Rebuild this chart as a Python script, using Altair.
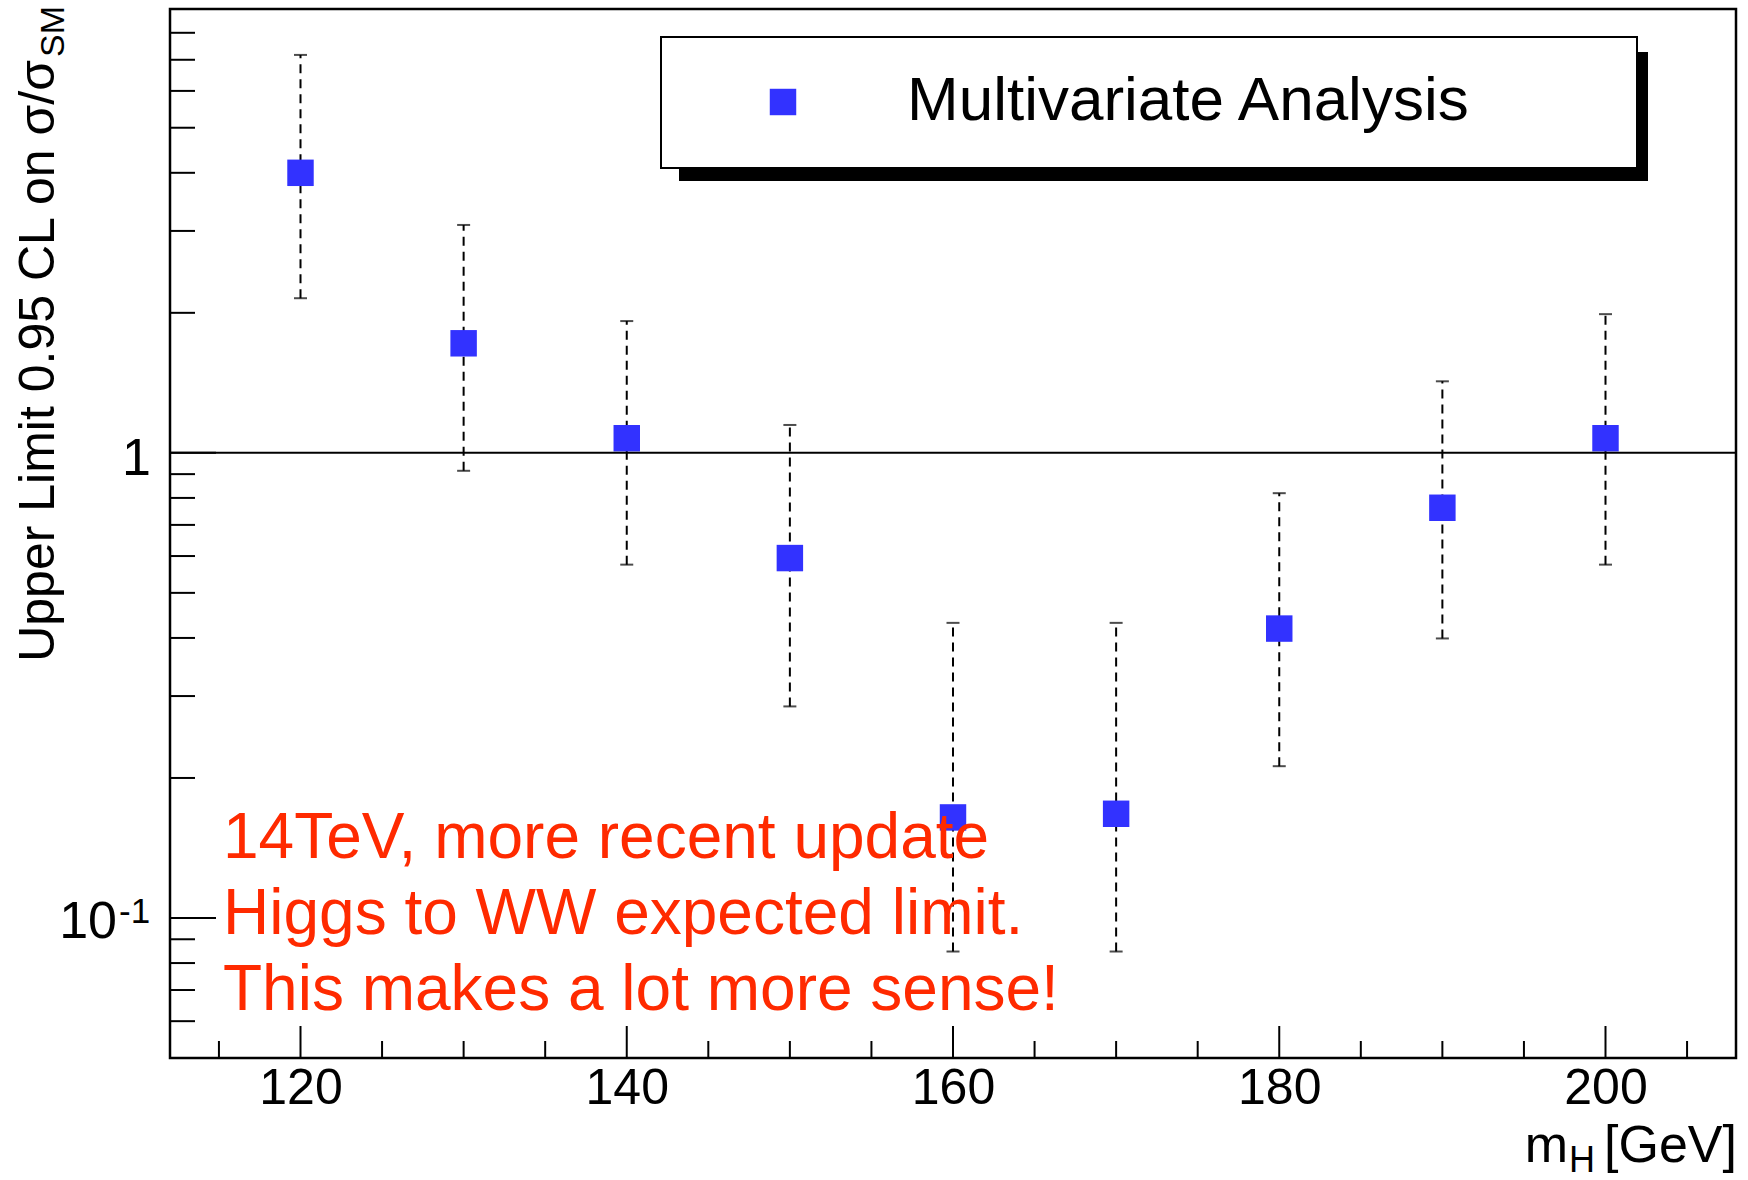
import altair as alt
import pandas as pd

# ---- data ----
mass = [120, 130, 140, 150, 160, 170, 180, 190, 200]
limit = [4.0, 1.72, 1.075, 0.594, 0.1645, 0.1675, 0.419, 0.762, 1.075]
upper = [7.17, 3.09, 1.92, 1.148, 0.431, 0.431, 0.819, 1.425, 1.987]
lower = [2.15, 0.915, 0.575, 0.285, 0.0847, 0.0847, 0.212, 0.399, 0.575]

x_major = [120, 140, 160, 180, 200]
x_minor = [115, 125, 130, 135, 145, 150, 155, 165, 170, 175, 185, 190, 195, 205]
y_major = [0.1, 1]
y_minor = [0.06, 0.07, 0.08, 0.09, 0.2, 0.3, 0.4, 0.5, 0.6, 0.7, 0.8, 0.9,
           2, 3, 4, 5, 6, 7, 8, 9]
ref_line = [1]

legend_label = "Multivariate Analysis"
note_lines = "14TeV, more recent update\nHiggs to WW expected limit.\nThis makes a lot more sense!"

FONT = "Liberation Sans"
BLUE = "#3232ff"
RED = "#ff2a00"
W, H = 1566, 1049

df = pd.DataFrame({"mass": mass, "limit": limit, "upper": upper, "lower": lower})

xs = alt.Scale(domain=[112, 208], nice=False, zero=False)
ys = alt.Scale(type="log", domain=[0.05, 9], nice=False)
x_axis = alt.Axis(values=x_major, ticks=False, tickSize=0, domain=False, grid=False,
                  title=None, labelFont=FONT, labelFontSize=50, labelPadding=5,
                  labelColor="black")


def X(field):
    return alt.X(field, type="quantitative", scale=xs, axis=x_axis)


def Y(field):
    return alt.Y(field, type="quantitative", scale=ys, axis=None)


base = alt.Chart(df)

bars = base.mark_rule(color="black", strokeWidth=2, strokeDash=[9, 6]).encode(
    x=X("mass"), y=Y("lower"), y2="upper")
cap_hi = base.mark_tick(orient="horizontal", color="black", size=13, thickness=2).encode(
    x=X("mass"), y=Y("upper"))
cap_lo = base.mark_tick(orient="horizontal", color="black", size=13, thickness=2).encode(
    x=X("mass"), y=Y("lower"))
points = base.mark_square(size=700, color=BLUE, opacity=1).encode(
    x=X("mass"), y=Y("limit"))

one = alt.Chart(pd.DataFrame({"v": ref_line})).mark_rule(color="black", strokeWidth=2).encode(
    y=Y("v"), x=alt.value(0), x2=alt.value(W))

xmaj = alt.Chart(pd.DataFrame({"v": x_major})).mark_rule(color="black", strokeWidth=2).encode(
    x=X("v"), y=alt.value(H), y2=alt.value(H - 32))
xmin = alt.Chart(pd.DataFrame({"v": x_minor})).mark_rule(color="black", strokeWidth=2).encode(
    x=X("v"), y=alt.value(H), y2=alt.value(H - 17))
ymaj = alt.Chart(pd.DataFrame({"v": y_major})).mark_rule(color="black", strokeWidth=2).encode(
    y=Y("v"), x=alt.value(0), x2=alt.value(46))
ymin = alt.Chart(pd.DataFrame({"v": y_minor})).mark_rule(color="black", strokeWidth=2).encode(
    y=Y("v"), x=alt.value(0), x2=alt.value(25))

# y tick labels (ROOT style "1" and "10^-1")
ylab_one = alt.Chart(pd.DataFrame({"v": [1], "t": ["1"]})).mark_text(
    font=FONT, fontSize=52, align="right", baseline="alphabetic", dy=22, color="black").encode(
    y=Y("v"), x=alt.value(-19), text="t:N")
ylab_ten = alt.Chart(pd.DataFrame({"v": [0.1], "t": ["10"]})).mark_text(
    font=FONT, fontSize=52, align="right", baseline="alphabetic", dy=20, color="black").encode(
    y=Y("v"), x=alt.value(-53), text="t:N")
ylab_exp = alt.Chart(pd.DataFrame({"v": [0.1], "t": ["-1"]})).mark_text(
    font=FONT, fontSize=35, align="left", baseline="alphabetic", dy=5, color="black").encode(
    y=Y("v"), x=alt.value(-51), text="t:N")

# axis titles
one_row = pd.DataFrame({"k": [0]})
ytitle = alt.Chart(one_row).mark_text(
    text="Upper Limit 0.95 CL on σ/σ", font=FONT, fontSize=50, angle=270,
    align="right", baseline="alphabetic", color="black").encode(
    x=alt.value(-116), y=alt.value(51))
ytitle_sub = alt.Chart(one_row).mark_text(
    text="SM", font=FONT, fontSize=34, angle=270,
    align="right", baseline="alphabetic", color="black").encode(
    x=alt.value(-106), y=alt.value(-3))
xtitle_gev = alt.Chart(one_row).mark_text(
    text="[GeV]", font=FONT, fontSize=52, align="right", baseline="alphabetic",
    color="black").encode(x=alt.value(W + 1), y=alt.value(H + 104))
xtitle_h = alt.Chart(one_row).mark_text(
    text="H", font=FONT, fontSize=36, align="right", baseline="alphabetic",
    color="black").encode(x=alt.value(1425), y=alt.value(H + 114))
xtitle_m = alt.Chart(one_row).mark_text(
    text="m", font=FONT, fontSize=52, align="right", baseline="alphabetic",
    color="black").encode(x=alt.value(1398), y=alt.value(H + 104))

# legend box with shadow
shadow = alt.Chart(one_row).mark_rect(color="black").encode(
    x=alt.value(509), x2=alt.value(1478), y=alt.value(43), y2=alt.value(172))
box = alt.Chart(one_row).mark_rect(fill="white", stroke="black", strokeWidth=2).encode(
    x=alt.value(491), x2=alt.value(1467), y=alt.value(28), y2=alt.value(159))
leg_mark = alt.Chart(one_row).mark_square(size=700, color=BLUE, opacity=1).encode(
    x=alt.value(613), y=alt.value(93))
leg_text = alt.Chart(one_row).mark_text(
    text=legend_label, font=FONT, fontSize=62, align="left", baseline="alphabetic",
    color="black").encode(x=alt.value(737), y=alt.value(111))

note = alt.Chart(pd.DataFrame({"t": [note_lines]})).mark_text(
    font=FONT, fontSize=64, align="left", baseline="alphabetic", lineBreak="\n",
    lineHeight=76, color=RED).encode(
    x=alt.value(53), y=alt.value(849), text="t:N")

chart = alt.layer(
    bars, cap_hi, cap_lo, points, one, xmaj, xmin, ymaj, ymin,
    ylab_one, ylab_ten, ylab_exp, ytitle, ytitle_sub, xtitle_gev, xtitle_h, xtitle_m,
    shadow, box, leg_mark, leg_text, note
).properties(
    width=W, height=H,
    padding={"left": 170, "top": 9, "right": 12, "bottom": 122},
    autosize=alt.AutoSizeParams(type="none"),
    background="white",
).configure_view(stroke="black", strokeWidth=2.5)

chart.save("out.html", embed_options={"renderer": "svg", "actions": False})
